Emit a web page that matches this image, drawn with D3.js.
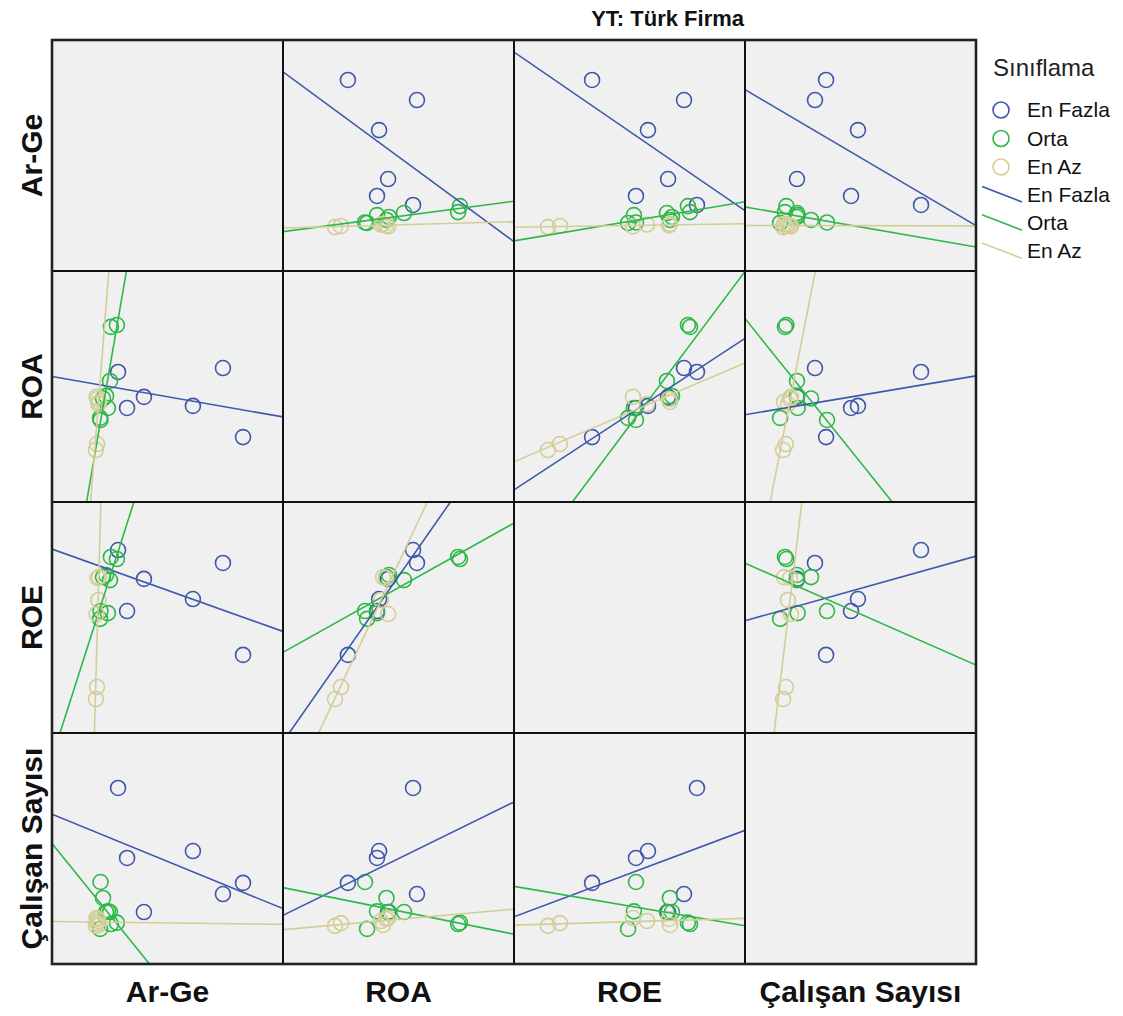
<!DOCTYPE html>
<html><head><meta charset="utf-8">
<script src="https://cdn.jsdelivr.net/npm/d3@7"></script>
<style>
body{margin:0;background:#fff;}
svg{display:block;font-family:"Liberation Sans",Arial,Helvetica,sans-serif;}
</style>
</head><body>
<svg id="chart" width="1123" height="1016"></svg>
<script>
// ---- data (each variable on a 0–100 plotting scale) ----
const variables = ["Ar-Ge", "ROA", "ROE", "Çalışan Sayısı"];
const groups = ["En Fazla", "Orta", "En Az"];
const groupColors = ["#3E58AC", "#2EB848", "#D3CE97"];
const chartTitle = "YT: Türk Firma";
const legendTitle = "Sınıflama";

// one entry per firm
const firmGroup = ["En Fazla","En Fazla","En Fazla","En Fazla","En Fazla","En Fazla",
                   "Orta","Orta","Orta","Orta","Orta","Orta","Orta","Orta",
                   "En Az","En Az","En Az","En Az","En Az","En Az"];
const arGe    = [82.7, 74.0, 61.0, 39.8, 32.5, 28.6,  28.1, 25.5, 25.1, 22.1, 24.2, 20.8, 21.0, 23.4,  19.0, 19.5, 19.7, 20.1, 19.3, 20.3];
const roa     = [28.1, 58.0, 41.6, 45.5, 40.7, 56.3,  76.6, 75.8, 52.4, 44.8, 40.7, 36.4, 35.5, 45.9,  22.5, 25.1, 44.6, 42.4, 45.5, 43.3];
const roe     = [33.8, 73.6, 58.0, 66.7, 52.8, 79.2,  75.3, 76.2, 66.2, 67.5, 51.9, 49.4, 52.8, 68.4,  14.7, 19.9, 67.1, 57.6, 51.5, 67.5];
const calisan = [35.1, 30.3, 48.9, 22.5, 45.9, 76.2,  17.9, 17.3, 22.5, 28.6, 22.8, 15.2, 35.5, 22.5,  16.5, 17.7, 19.5, 18.6, 19.9, 16.9];
const series = [arGe, roa, roe, calisan];

// ---- layout ----
const gridLeft = 52, gridTop = 40, cell = 231;
const svg = d3.select("#chart");
const color = d3.scaleOrdinal().domain(groups).range(groupColors);
const xs = variables.map((v, j) => d3.scaleLinear().domain([0, 100]).range([gridLeft + j * cell, gridLeft + (j + 1) * cell]));
const ys = variables.map((v, i) => d3.scaleLinear().domain([0, 100]).range([gridTop + (i + 1) * cell, gridTop + i * cell]));

const defs = svg.append("defs");

function fit(xv, yv) {
  const mx = d3.mean(xv), my = d3.mean(yv);
  let sxy = 0, sxx = 0;
  xv.forEach((v, k) => { sxy += (v - mx) * (yv[k] - my); sxx += (v - mx) * (v - mx); });
  const b = sxy / sxx;
  return { b, a: my - b * mx };
}

for (let i = 0; i < 4; i++) {
  for (let j = 0; j < 4; j++) {
    const x = xs[j], y = ys[i];
    const id = `clip-${i}-${j}`;
    defs.append("clipPath").attr("id", id).append("rect")
      .attr("x", x.range()[0]).attr("y", y.range()[1])
      .attr("width", cell).attr("height", cell);
    svg.append("rect")
      .attr("x", x.range()[0]).attr("y", y.range()[1])
      .attr("width", cell).attr("height", cell)
      .attr("fill", "#f0f0f0");
    if (i === j) continue;
    const g = svg.append("g").attr("clip-path", `url(#${id})`);
    groups.forEach(grp => {
      const idx = firmGroup.map((f, k) => f === grp ? k : -1).filter(k => k >= 0);
      g.selectAll(null).data(idx).enter().append("circle")
        .attr("cx", k => x(series[j][k]))
        .attr("cy", k => y(series[i][k]))
        .attr("r", 7.5)
        .attr("fill", "none")
        .attr("stroke", color(grp))
        .attr("stroke-width", 1.6);
    });
    groups.forEach(grp => {
      const idx = firmGroup.map((f, k) => f === grp ? k : -1).filter(k => k >= 0);
      const { a, b } = fit(idx.map(k => series[j][k]), idx.map(k => series[i][k]));
      const dom = x.domain();
      g.append("line")
        .attr("x1", x(dom[0])).attr("y1", y(a + b * dom[0]))
        .attr("x2", x(dom[1])).attr("y2", y(a + b * dom[1]))
        .attr("stroke", color(grp))
        .attr("stroke-width", 1.6);
    });
  }
}

// cell borders
for (let i = 0; i < 4; i++) for (let j = 0; j < 4; j++) {
  svg.append("rect")
    .attr("x", xs[j].range()[0]).attr("y", ys[i].range()[1])
    .attr("width", cell).attr("height", cell)
    .attr("fill", "none").attr("stroke", "#111").attr("stroke-width", 2);
}
svg.append("rect").attr("x", gridLeft).attr("y", gridTop).attr("width", cell * 4).attr("height", cell * 4)
  .attr("fill", "none").attr("stroke", "#222").attr("stroke-width", 2.6);

// axis labels
variables.forEach((v, j) => {
  svg.append("text")
    .attr("x", (xs[j].range()[0] + xs[j].range()[1]) / 2)
    .attr("y", 1002)
    .attr("text-anchor", "middle")
    .attr("font-weight", "bold").attr("font-size", 30)
    .attr("fill", "#111")
    .text(v);
});
variables.forEach((v, i) => {
  const cy = (ys[i].range()[0] + ys[i].range()[1]) / 2;
  svg.append("text")
    .attr("transform", `translate(42,${cy}) rotate(-90)`)
    .attr("text-anchor", "middle")
    .attr("font-weight", "bold").attr("font-size", 30)
    .attr("fill", "#111")
    .text(v);
});

// title
svg.append("text")
  .attr("x", 744).attr("y", 26)
  .attr("text-anchor", "end")
  .attr("font-weight", "bold").attr("font-size", 22)
  .attr("fill", "#111")
  .text(chartTitle);

// legend
const lg = svg.append("g");
lg.append("text").attr("x", 993).attr("y", 76).attr("font-size", 24).attr("fill", "#222").text(legendTitle);
groups.forEach((grp, n) => {
  const base = 117 + n * 28.5;
  lg.append("circle").attr("cx", 1001).attr("cy", base - 7).attr("r", 8)
    .attr("fill", "none").attr("stroke", color(grp)).attr("stroke-width", 1.6);
  lg.append("text").attr("x", 1027).attr("y", base).attr("font-size", 21).attr("fill", "#111").text(grp);
});
groups.forEach((grp, n) => {
  const base = 202 + n * 28.2;
  lg.append("line").attr("x1", 982).attr("y1", base - 15.5).attr("x2", 1022).attr("y2", base)
    .attr("stroke", color(grp)).attr("stroke-width", 1.6);
  lg.append("text").attr("x", 1027).attr("y", base).attr("font-size", 21).attr("fill", "#111").text(grp);
});
</script>
</body></html>
